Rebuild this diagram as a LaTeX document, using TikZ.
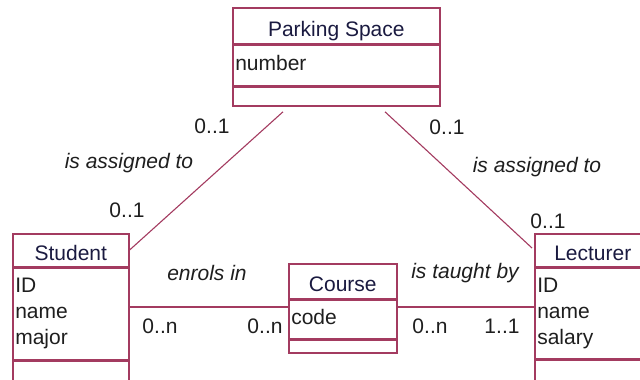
\documentclass[tikz,border=0pt]{standalone}
\usepackage{fontspec}
\setmainfont{Liberation Sans}
\usetikzlibrary{positioning,calc}

\definecolor{cline}{HTML}{A33B60}
\definecolor{cname}{HTML}{1A1A40}
\definecolor{ctext}{HTML}{1E1E1E}

\begin{document}
\begin{tikzpicture}[
  x=1pt,y=-1pt,
  font=\fontsize{21}{26}\selectfont,
  hd/.style={draw=cline,line width=1.6pt,anchor=north west,minimum width=#1,
             inner sep=0pt,text height=21pt,text depth=0pt,text=cname},
  attr/.style={draw=cline,line width=1.6pt,anchor=north west,text width=#1,
               align=left,inner xsep=2.5pt,inner ysep=0pt,text=ctext},
  ops/.style={draw=cline,line width=1.6pt,anchor=north west,minimum width=#1,inner sep=0pt},
  assoc/.style={draw=cline,line width=1.1pt},
  lbl/.style={text=ctext,font=\fontsize{21}{26}\selectfont\itshape},
  mult/.style={text=ctext},
]
  \useasboundingbox (0,0) rectangle (640,380);

  % classes
  \node[hd=207pt,minimum height=36pt] (park) at (232,7) {Parking Space};
  \node[attr=202pt,minimum height=40pt,text depth=5pt] (park-a) at (park.south west) {number};
  \node[ops=207pt,minimum height=19pt] (park-o) at (park-a.south west) {};

  \node[hd=116pt,minimum height=33pt] (stu) at (12,233) {Student};
  \node[attr=111pt,minimum height=91pt] (stu-a) at (stu.south west) {ID\\name\\major};
  \node[ops=116pt,minimum height=40pt] (stu-o) at (stu-a.south west) {};

  \node[hd=116pt,minimum height=33pt] (lec) at (534,233) {Lecturer};
  \node[attr=111pt,minimum height=90pt] (lec-a) at (lec.south west) {ID\\name\\salary};
  \node[ops=116pt,minimum height=40pt] (lec-o) at (lec-a.south west) {};

  \node[hd=108pt,minimum height=35pt] (crs) at (288,263) {Course};
  \node[attr=103pt,minimum height=38pt,text depth=5pt] (crs-a) at (crs.south west) {code};
  \node[ops=108pt,minimum height=13pt] (crs-o) at (crs-a.south west) {};

  % associations
  \draw[assoc] ([yshift=-17pt]stu.north east) -- ([xshift=51pt,yshift=-5pt]park-o.south west);
  \draw[assoc] ([xshift=153pt,yshift=-5pt]park-o.south west) -- ([xshift=-2pt,yshift=-15pt]lec.north west);
  \draw[assoc] (stu-a.east |- 0,307) -- (crs-a.west |- 0,307);
  \draw[assoc] (crs-a.east |- 0,307) -- (lec-a.west |- 0,307);

  % labels
  \node[mult] (m1) at (212,126) {0..1};
  \node[lbl] (r1) at (129,163) {is assigned to};
  \node[mult] (m2) at (127,210) {0..1};
  \node[mult] (m3) at (447,127) {0..1};
  \node[lbl] (r2) at (537,167) {is assigned to};
  \node[mult] (m4) at (548,221) {0..1};
  \node[lbl] (r3) at (207,273) {enrols in};
  \node[mult] (m5) at (160,326) {0..n};
  \node[mult] (m6) at (265,326) {0..n};
  \node[lbl] (r4) at (465,273) {is taught by};
  \node[mult] (m7) at (430,326) {0..n};
  \node[mult] (m8) at (502,326) {1..1};
\end{tikzpicture}
\end{document}
